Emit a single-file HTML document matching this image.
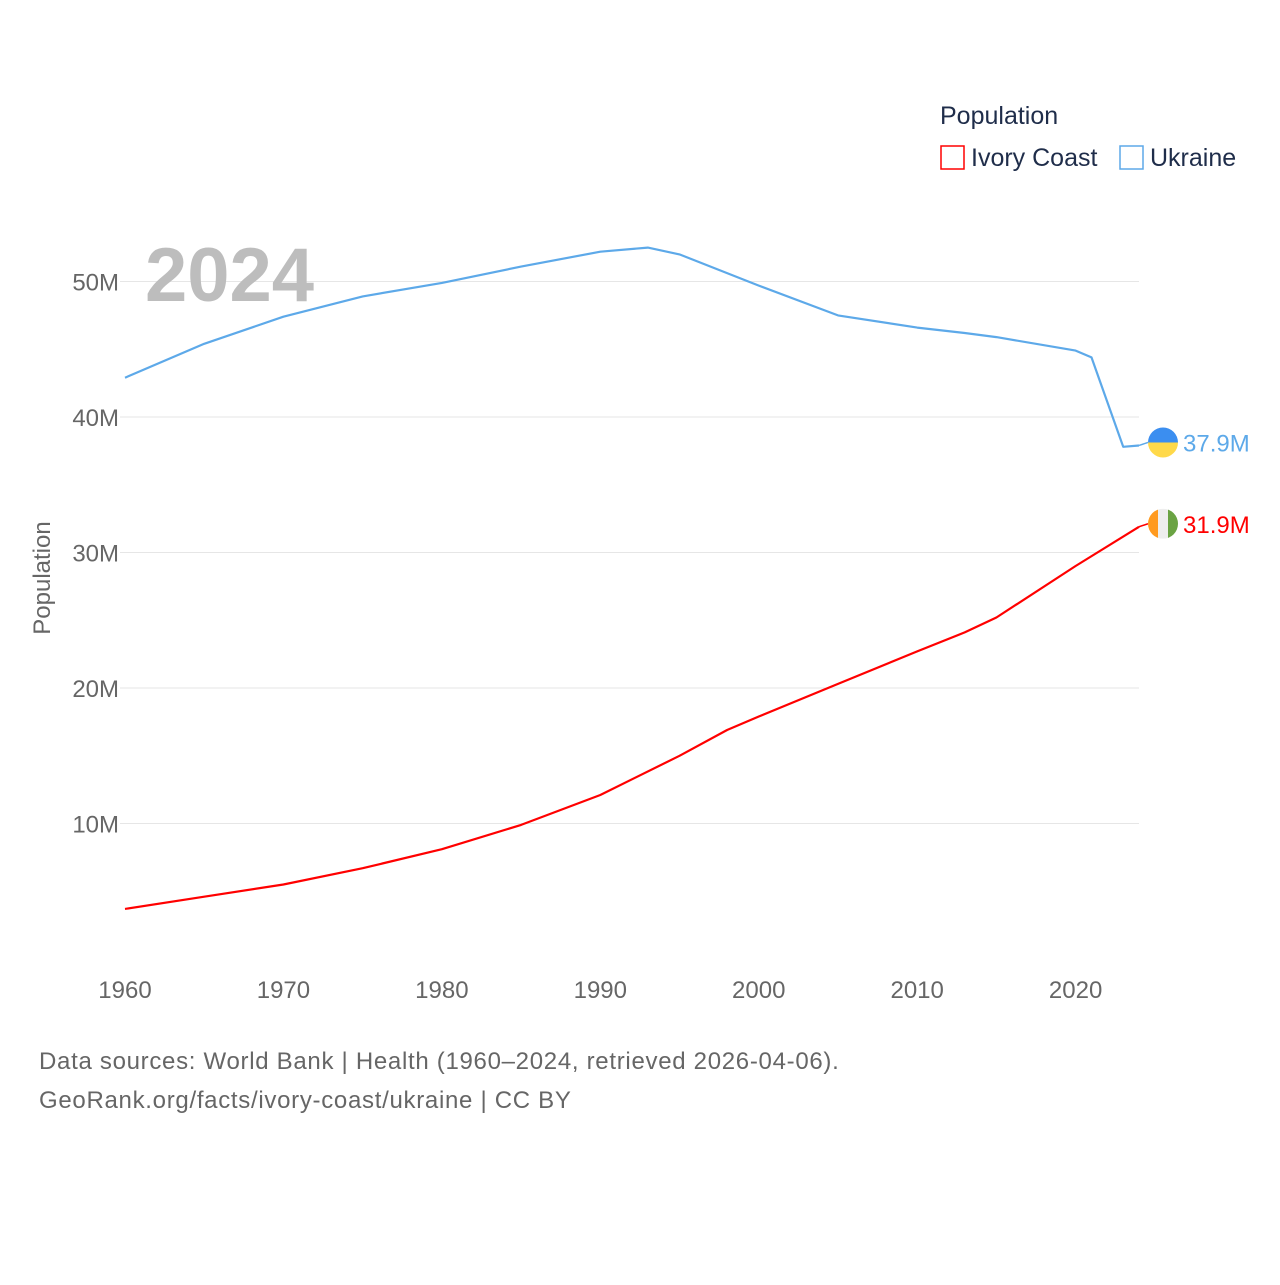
<!DOCTYPE html>
<html><head><meta charset="utf-8"><style>
body{margin:0;background:#fff;}
svg text{font-family:"Liberation Sans",sans-serif;}
</style></head><body>
<svg id="chart" width="1280" height="1280" viewBox="0 0 1280 1280" xmlns="http://www.w3.org/2000/svg">
<rect width="1280" height="1280" fill="#fff"/>
<g id="grid"></g>
<g id="yticks"></g>
<g id="xticks"></g>
<text x="145" y="301" font-size="76" font-weight="bold" fill="#bdbdbd">2024</text>
<text transform="translate(50,578) rotate(-90)" text-anchor="middle" font-size="24" fill="#666">Population</text>
<g id="series"></g>
<text x="940" y="124" font-size="25" fill="#1f2d4a">Population</text>
<g>
<rect x="941" y="146" width="23" height="23" fill="none" stroke="#ff0000" stroke-width="1.5"/>
<text x="971" y="166" font-size="25" fill="#1f2d4a">Ivory Coast</text></g>
<g>
<rect x="1120" y="146" width="23" height="23" fill="none" stroke="#5da9e9" stroke-width="1.5"/>
<text x="1150" y="166" font-size="25" fill="#1f2d4a">Ukraine</text></g>
<text x="39" y="1069" font-size="24" fill="#666" letter-spacing="0.7">Data sources: World Bank | Health (1960–2024, retrieved 2026-04-06).</text>
<text x="39" y="1108" font-size="24" fill="#666" letter-spacing="0.7">GeoRank.org/facts/ivory-coast/ukraine | CC BY</text>
</svg>
<script>
const years = [1960,1965,1970,1975,1980,1985,1990,1993,1995,2000,2005,2010,2013,2015,2020,2021,2023,2024];
const ukraine = [42.9,45.4,47.4,48.9,49.9,51.1,52.2,52.5,52.0,49.7,47.5,46.6,46.2,45.9,44.9,44.4,37.8,37.9];
const icYears = [1960,1965,1970,1975,1980,1985,1990,1995,1998,2000,2005,2010,2013,2015,2020,2024];
const ivoryCoast = [3.7,4.6,5.5,6.7,8.1,9.9,12.1,15.0,16.9,17.9,20.3,22.7,24.1,25.2,29.0,31.9];
const yTicks = [10,20,30,40,50];
const xTicks = [1960,1970,1980,1990,2000,2010,2020];
const NS='http://www.w3.org/2000/svg';
const x = v => 125 + (v-1960)*(1139-125)/64;
const y = v => 959 - v*13.55;
function mk(tag, attrs, parent){const e=document.createElementNS(NS,tag);for(const k in attrs)e.setAttribute(k,attrs[k]);parent.appendChild(e);return e;}
const grid=document.getElementById('grid'), yt=document.getElementById('yticks'), xt=document.getElementById('xticks'), ser=document.getElementById('series');
yTicks.forEach(t=>{
  const l=mk('line',{x1:120,x2:1139,y1:y(t*1),y2:y(t*1),stroke:'#e6e6e6','stroke-width':1},grid);
  
  
  const tx=mk('text',{x:119,y:y(t)+9,'text-anchor':'end','font-size':24,fill:'#666'},yt);
  tx.textContent=t+'M';
  
  
});
xTicks.forEach(t=>{
  const tx=mk('text',{x:x(t),y:998,'text-anchor':'middle','font-size':24,fill:'#666'},xt);
  tx.textContent=t;
  
  
});
function line(xs, vs, color, name){
  const d=xs.map((yr,i)=>(i?'L':'M')+x(yr).toFixed(1)+','+y(vs[i]).toFixed(1)).join(' ');
  const p=mk('path',{d:d,fill:'none',stroke:color,'stroke-width':2.2,'stroke-linejoin':'round'},ser);
  
  
  const lx=x(xs[xs.length-1]), ly=y(vs[vs.length-1]);
  mk('line',{x1:lx,x2:lx+9,y1:ly,y2:ly-3,stroke:color,'stroke-width':1.5},ser);
  return [lx+24, ly-3];
}
const u=line(years,ukraine,'#5da9e9','ukraine-line');
const c=line(icYears,ivoryCoast,'#ff0000','ivory-coast-line');
const fu=mk('g',{},ser);


mk('path',{d:`M${u[0]-15},${u[1]} A15,15 0 0 1 ${u[0]+15},${u[1]} Z`,fill:'#3b8ef0'},fu);
mk('path',{d:`M${u[0]-15},${u[1]} A15,15 0 0 0 ${u[0]+15},${u[1]} Z`,fill:'#ffd94a'},fu);
const ul=mk('text',{x:u[0]+20,y:u[1]+9,'font-size':24,fill:'#5da9e9'},ser);
ul.textContent=ukraine[ukraine.length-1].toFixed(1)+'M';


const fc=mk('g',{},ser);


mk('clipPath',{id:'cc'},fc);
mk('circle',{cx:c[0],cy:c[1],r:15},document.getElementById('cc'));
const cg=mk('g',{'clip-path':'url(#cc)'},fc);
mk('rect',{x:c[0]-15,y:c[1]-15,width:10,height:30,fill:'#ff9a1f'},cg);
mk('rect',{x:c[0]-5,y:c[1]-15,width:10,height:30,fill:'#eeeeee'},cg);
mk('rect',{x:c[0]+5,y:c[1]-15,width:10,height:30,fill:'#6aa343'},cg);
const cl=mk('text',{x:c[0]+20,y:c[1]+9,'font-size':24,fill:'#ff0000'},ser);
cl.textContent=ivoryCoast[ivoryCoast.length-1].toFixed(1)+'M';


</script>
</body></html>
